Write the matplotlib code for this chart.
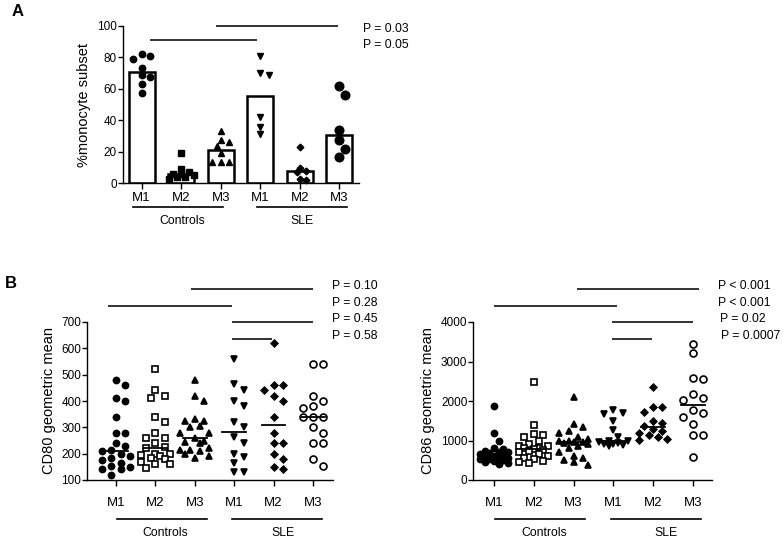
import matplotlib
matplotlib.use("Agg")
import matplotlib.pyplot as plt
import numpy as np

plt.rcParams['font.family'] = ['Liberation Sans', 'DejaVu Sans']

W, H = 783, 541

# ---- data ----
subsets = ["M1", "M2", "M3", "M1", "M2", "M3"]
groups = ["Controls", "SLE"]

# panel A: % monocyte subset
pct_ctrl_m1 = [82, 80.5, 79, 73, 68.5, 67.5, 63, 57.5]
pct_ctrl_m2 = [19, 9, 7, 6, 6, 5, 4, 4, 3]
pct_ctrl_m3 = [33, 27.5, 26, 23.5, 19, 13.5, 13.5, 13.5]
pct_sle_m1 = [81, 70, 68.5, 42, 35.5, 31]
pct_sle_m2 = [23, 10, 8, 7, 2.5, 2]
pct_sle_m3 = [62, 56, 34, 27.5, 21.5, 16.5]
p_values_a = ["P = 0.03", "P = 0.05"]

# panel B left: CD80 geometric mean
cd80_ctrl_m1 = [480, 460, 410, 400, 340, 280, 280, 240, 230, 215, 210, 200,
                190, 185, 175, 165, 155, 150, 140, 140, 120]
cd80_ctrl_m2 = [520, 440, 420, 410, 340, 320, 280, 260, 260, 240, 225, 220,
                200, 200, 195, 190, 185, 180, 170, 160, 160, 145]
cd80_ctrl_m3 = [480, 420, 400, 330, 325, 325, 305, 300, 280, 280, 260, 250,
                245, 240, 220, 215, 215, 210, 200, 190, 185]
cd80_sle_m1 = [560, 465, 440, 400, 380, 320, 300, 262, 242, 200, 188, 163, 132, 132]
cd80_sle_m2 = [620, 460, 460, 440, 420, 400, 340, 280, 240, 240, 200, 180, 150, 140]
cd80_sle_m3 = [540, 540, 420, 400, 380, 375, 340, 340, 340, 300, 280, 240,
               240, 180, 155]
p_values_cd80 = ["P = 0.10", "P = 0.28", "P = 0.45", "P = 0.58"]

# panel B right: CD86 geometric mean
cd86_ctrl_m1 = [1870, 1180, 1000, 820, 780, 740, 720, 700, 680, 660, 640, 620,
                600, 580, 560, 540, 520, 500, 480, 450, 420, 400]
cd86_ctrl_m2 = [2490, 1380, 1160, 1150, 1080, 1000, 900, 870, 850, 820, 800,
                780, 760, 740, 700, 650, 600, 560, 520, 480, 450, 420]
cd86_ctrl_m3 = [2100, 1420, 1330, 1230, 1200, 1100, 1050, 1000, 980, 960, 950,
                940, 900, 850, 800, 700, 620, 560, 500, 450, 380]
cd86_sle_m1 = [1760, 1700, 1660, 1500, 1270, 1100, 1000, 980, 960, 940, 920,
               900, 880, 860]
cd86_sle_m2 = [2350, 1850, 1840, 1720, 1500, 1450, 1360, 1300, 1250, 1200,
               1150, 1100, 1050, 1020]
cd86_sle_m3 = [3440, 3210, 2590, 2550, 2180, 2080, 2020, 1760, 1700, 1590,
               1420, 1140, 1140, 574]
p_values_cd86 = ["P < 0.001", "P < 0.001", "P = 0.02", "P = 0.0007"]


def px_rect(x0, y_top, x1, y_bot):
    return [x0 / W, 1 - y_bot / H, (x1 - x0) / W, (y_bot - y_top) / H]


def swarm_offsets(ax, xc, values, diam_px, max_off=0.4):
    # deterministic beeswarm in display space, returns data-x offsets;
    # spread is capped, dense clusters are allowed to overlap
    placed, offs = [], []
    step = diam_px * 0.5
    x0 = ax.transData.transform((xc, 0))[0]
    max_px = ax.transData.transform((xc + max_off, 0))[0] - x0
    cands = [0]
    k = 1
    while k * step <= max_px:
        cands += [k * step, -k * step]
        k += 1
    for v in values:
        _, y = ax.transData.transform((xc, v))
        best, best_d = 0, -1
        for x in cands:
            d = min([np.hypot(x - a, y - b) for a, b in placed] + [1e9])
            if d >= 0.85 * diam_px:
                best = x
                break
            if d > best_d:
                best, best_d = x, d
        placed.append((best, y))
        offs.append(best)
    inv = ax.transData.inverted()
    return [inv.transform((x0 + o, 0))[0] - xc for o in offs]


def style_axes(ax, xpad):
    for s in ["top", "right"]:
        ax.spines[s].set_visible(False)
    for s in ["left", "bottom"]:
        ax.spines[s].set_linewidth(1.0)
    ax.set_xticks(range(6))
    ax.set_xticklabels(subsets, fontsize=9.5)
    ax.tick_params(axis='x', length=4, width=1, pad=xpad)
    ax.tick_params(axis='y', length=3.5, width=1, pad=0.8, labelsize=8.5)


def group_lines(ax, spans, label_x, y_line, y_lab):
    for (a, b), lx, g in zip(spans, label_x, groups):
        ax.plot([a, b], [y_line, y_line], color='black', lw=1.2,
                transform=ax.get_xaxis_transform(), clip_on=False)
        ax.text(lx, y_lab, g, transform=ax.get_xaxis_transform(),
                ha='center', va='center', fontsize=8.8)


def sig_lines(ax, spans):
    for a, b, y in spans:
        ax.plot([a, b], [y, y], color='#333333', lw=1.4, clip_on=False,
                solid_capstyle='butt')


def p_texts(texts, xs, ys):
    for t, x, y in zip(texts, xs, ys):
        fig.text(x / W, 1 - y / H, t, fontsize=8.8, va='center', ha='left')


fig = plt.figure(figsize=(W / 100, H / 100), dpi=100)

# ---------------- panel A ----------------
axA = fig.add_axes(px_rect(122.7, 25.7, 359, 183.3))
axA.set_xlim(-0.48, 5.5)
axA.set_ylim(0, 100)
style_axes(axA, 2.5)
axA.set_yticks(np.arange(0, 101, 20))
axA.set_ylabel("%monocyte subset", fontsize=10.5, labelpad=4)

a_sets = [pct_ctrl_m1, pct_ctrl_m2, pct_ctrl_m3, pct_sle_m1, pct_sle_m2, pct_sle_m3]
a_marks = [('o', 4.6), ('s', 4.6), ('^', 4.6), ('v', 4.6), ('D', 3.4), ('o', 6.2)]
axA.bar(range(6), [np.median(v) for v in a_sets], width=0.66, color='white',
        edgecolor='black', linewidth=1.8, zorder=2)
for i, (vals, (m, ms)) in enumerate(zip(a_sets, a_marks)):
    vals = sorted(vals, reverse=True)
    xs = swarm_offsets(axA, i, vals, ms / 0.72 * 1.3)
    axA.plot(np.array(xs) + i, vals, ls='none', marker=m, ms=ms, color='black',
             zorder=3, clip_on=False)
sig_lines(axA, [(1.88, 4.98, 100), (0.21, 2.91, 91)])
group_lines(axA, [(-0.21, 2.07), (2.91, 5.2)], [1.03, 4.06], -0.152, -0.237)
p_texts(p_values_a, [363, 363], [29, 45])
fig.text(18 / W, 1 - 12 / H, "A", fontsize=12, fontweight='bold', ha='center', va='center')

# ---------------- panel B ----------------
b_marks = [('o', 'black', 4.4), ('s', 'white', 4.6), ('^', 'black', 4.6),
           ('v', 'black', 4.6), ('D', 'black', 3.4), ('o', 'white', 5.0)]


def dot_panel(ax, sets, ylim, yticks, ylabel):
    ax.set_ylim(*ylim)
    ax.set_yticks(yticks)
    ax.set_ylabel(ylabel, fontsize=10.5, labelpad=4)
    for i, (vals, (m, fc, ms)) in enumerate(zip(sets, b_marks)):
        vals = sorted(vals, reverse=True)
        xs = swarm_offsets(ax, i, vals, max(ms, 4.4) / 0.72 * 1.5)
        ax.plot(np.array(xs) + i, vals, ls='none', marker=m, ms=ms,
                mfc=fc, mec='black', mew=1.2, zorder=3, clip_on=False)
        med = np.median(vals)
        ax.plot([i - 0.3, i + 0.3], [med, med], color='black', lw=1.3, zorder=4)


axB1 = fig.add_axes(px_rect(87.3, 322, 333, 480))
axB1.set_xlim(-0.73, 5.51)
style_axes(axB1, 8)
dot_panel(axB1, [cd80_ctrl_m1, cd80_ctrl_m2, cd80_ctrl_m3,
                 cd80_sle_m1, cd80_sle_m2, cd80_sle_m3],
          (100, 700), np.arange(100, 701, 100), "CD80 geometric mean")
sig_lines(axB1, [(1.9, 5.0, 824), (-0.2, 2.94, 761), (2.94, 5.0, 700), (2.94, 3.97, 637)])
group_lines(axB1, [(0.02, 2.3), (2.94, 5.22)], [1.26, 4.25], -0.249, -0.337)
p_texts(p_values_cd80, [331.7] * 4, [286, 302.7, 319.3, 336])
fig.text(11 / W, 1 - 284 / H, "B", fontsize=12, fontweight='bold', ha='center', va='center')

axB2 = fig.add_axes(px_rect(473.3, 322, 711.7, 480))
axB2.set_xlim(-0.52, 5.47)
style_axes(axB2, 8)
dot_panel(axB2, [cd86_ctrl_m1, cd86_ctrl_m2, cd86_ctrl_m3,
                 cd86_sle_m1, cd86_sle_m2, cd86_sle_m3],
          (0, 4000), np.arange(0, 4001, 1000), "CD86 geometric mean")
sig_lines(axB2, [(2.08, 5.16, 4828), (0.0, 3.1, 4405), (2.96, 5.0, 4000), (2.96, 3.98, 3577)])
group_lines(axB2, [(0.03, 2.29), (2.93, 5.19)], [1.26, 4.31], -0.249, -0.337)
p_texts(p_values_cd86, [718.3, 718.3, 720, 721], [286, 302.7, 319.3, 336])

fig.savefig("out.png", dpi=100)
